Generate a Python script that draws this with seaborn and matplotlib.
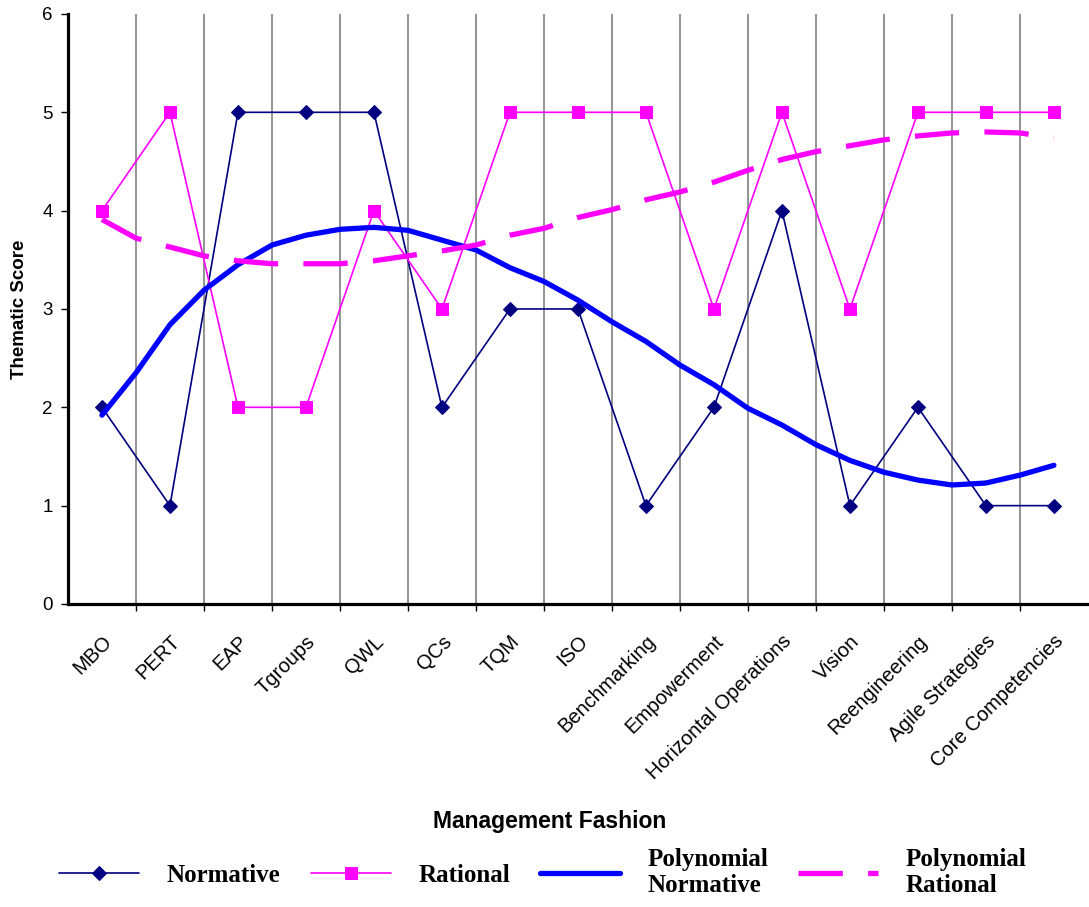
"""Thematic scores of management fashions with polynomial trendlines."""
import matplotlib
matplotlib.use("Agg")
import matplotlib.pyplot as plt
import matplotlib.transforms as mtransforms
import numpy as np
import pandas as pd
import seaborn as sns

CATEGORIES = ["MBO", "PERT", "EAP", "Tgroups", "QWL", "QCs", "TQM", "ISO",
              "Benchmarking", "Empowerment", "Horizontal Operations", "Vision",
              "Reengineering", "Agile Strategies", "Core Competencies"]
NORMATIVE = [2, 1, 5, 5, 5, 2, 3, 3, 1, 2, 4, 1, 2, 1, 1]
RATIONAL = [4, 5, 2, 2, 4, 3, 5, 5, 5, 3, 5, 3, 5, 5, 5]

# trendlines at every category and half-way between
TREND_NORMATIVE = [1.92, 2.35, 2.84, 3.19, 3.45, 3.65, 3.75, 3.81, 3.83, 3.80,
                   3.70, 3.60, 3.42, 3.28, 3.09, 2.87, 2.67, 2.43, 2.23, 1.99,
                   1.82, 1.62, 1.46, 1.34, 1.26, 1.21, 1.23, 1.31, 1.41]
TREND_RATIONAL = [3.91, 3.72, 3.63, 3.54, 3.49, 3.46, 3.46, 3.46, 3.49, 3.54,
                  3.59, 3.65, 3.75, 3.82, 3.93, 4.01, 4.11, 4.19, 4.29, 4.41,
                  4.52, 4.60, 4.66, 4.72, 4.76, 4.79, 4.80, 4.79, 4.74]

sns.set_theme(style="white")
plt.rcParams["font.family"] = ["Liberation Sans", "DejaVu Sans"]
for key in ["text.color", "axes.labelcolor", "xtick.color", "ytick.color"]:
    plt.rcParams[key] = "black"

pos = np.arange(len(CATEGORIES))
scores = pd.DataFrame({"pos": pos, "Normative": NORMATIVE, "Rational": RATIONAL})
trend = pd.DataFrame({"pos": np.arange(len(TREND_NORMATIVE)) / 2,
                      "normative": TREND_NORMATIVE, "rational": TREND_RATIONAL})

fig = plt.figure(figsize=(10.89, 9.07), dpi=100)
ax = fig.add_axes([0.0624, 0.3341, 0.9366, 0.6505])

sns.lineplot(data=scores, x="pos", y="Normative", ax=ax, color="#000080",
             linewidth=1.2, marker="D", markersize=7, markeredgecolor="#000080",
             label="Normative")
sns.lineplot(data=scores, x="pos", y="Rational", ax=ax, color="#FF00FF",
             linewidth=1.2, marker="s", markersize=8, markeredgecolor="#FF00FF",
             label="Rational")
sns.lineplot(data=trend, x="pos", y="normative", ax=ax, color="#0000FF",
             linewidth=3.8, label="Polynomial\nNormative")
sns.lineplot(data=trend, x="pos", y="rational", ax=ax, color="#FF00FF",
             linewidth=3.8, dashes=(8.4, 4.8), label="Polynomial\nRational")

ax.set_xlim(-0.5, len(CATEGORIES) - 0.5)
ax.set_ylim(0, 6)
ax.set_xticks(pos)
ax.set_xticklabels(CATEGORIES, rotation=45, ha="right", va="top",
                   rotation_mode="anchor", fontsize=14.5)
shift = mtransforms.ScaledTranslation(-12 / 100, 0, fig.dpi_scale_trans)
for lab in ax.get_xticklabels():
    lab.set_transform(lab.get_transform() + shift)
ax.set_xticks(pos[:-1] + 0.5, minor=True)
ax.set_yticks(range(7))
ax.tick_params(axis="y", labelsize=13.5, length=5, width=1, direction="out",
               left=True, pad=6)
ax.tick_params(axis="x", which="major", length=0, pad=20)
ax.tick_params(axis="x", which="minor", length=5, width=1, bottom=True)
ax.grid(axis="x", which="minor", color="#808080", linewidth=1.2)
ax.grid(axis="x", which="major", visible=False)

for side in ["top", "right"]:
    ax.spines[side].set_visible(False)
for side in ["left", "bottom"]:
    ax.spines[side].set_linewidth(2.3)
    ax.spines[side].set_color("black")

ax.set_xlabel("Management Fashion", fontsize=16.5, fontweight="bold")
ax.set_ylabel("Thematic Score", fontsize=13.5, fontweight="bold", labelpad=10)
ax.xaxis.set_label_coords(0.4725, -0.35)

handles, labels = ax.get_legend_handles_labels()
ax.legend_.remove()
fig.legend(handles, labels, loc="center", bbox_to_anchor=(0.4986, 0.038), ncol=4,
           frameon=False, handlelength=3.2, handletextpad=1.1, columnspacing=1.2,
           labelspacing=0.2,
           prop={"family": "Liberation Serif", "weight": "bold", "size": 18})

fig.savefig("out.png", dpi=100)
